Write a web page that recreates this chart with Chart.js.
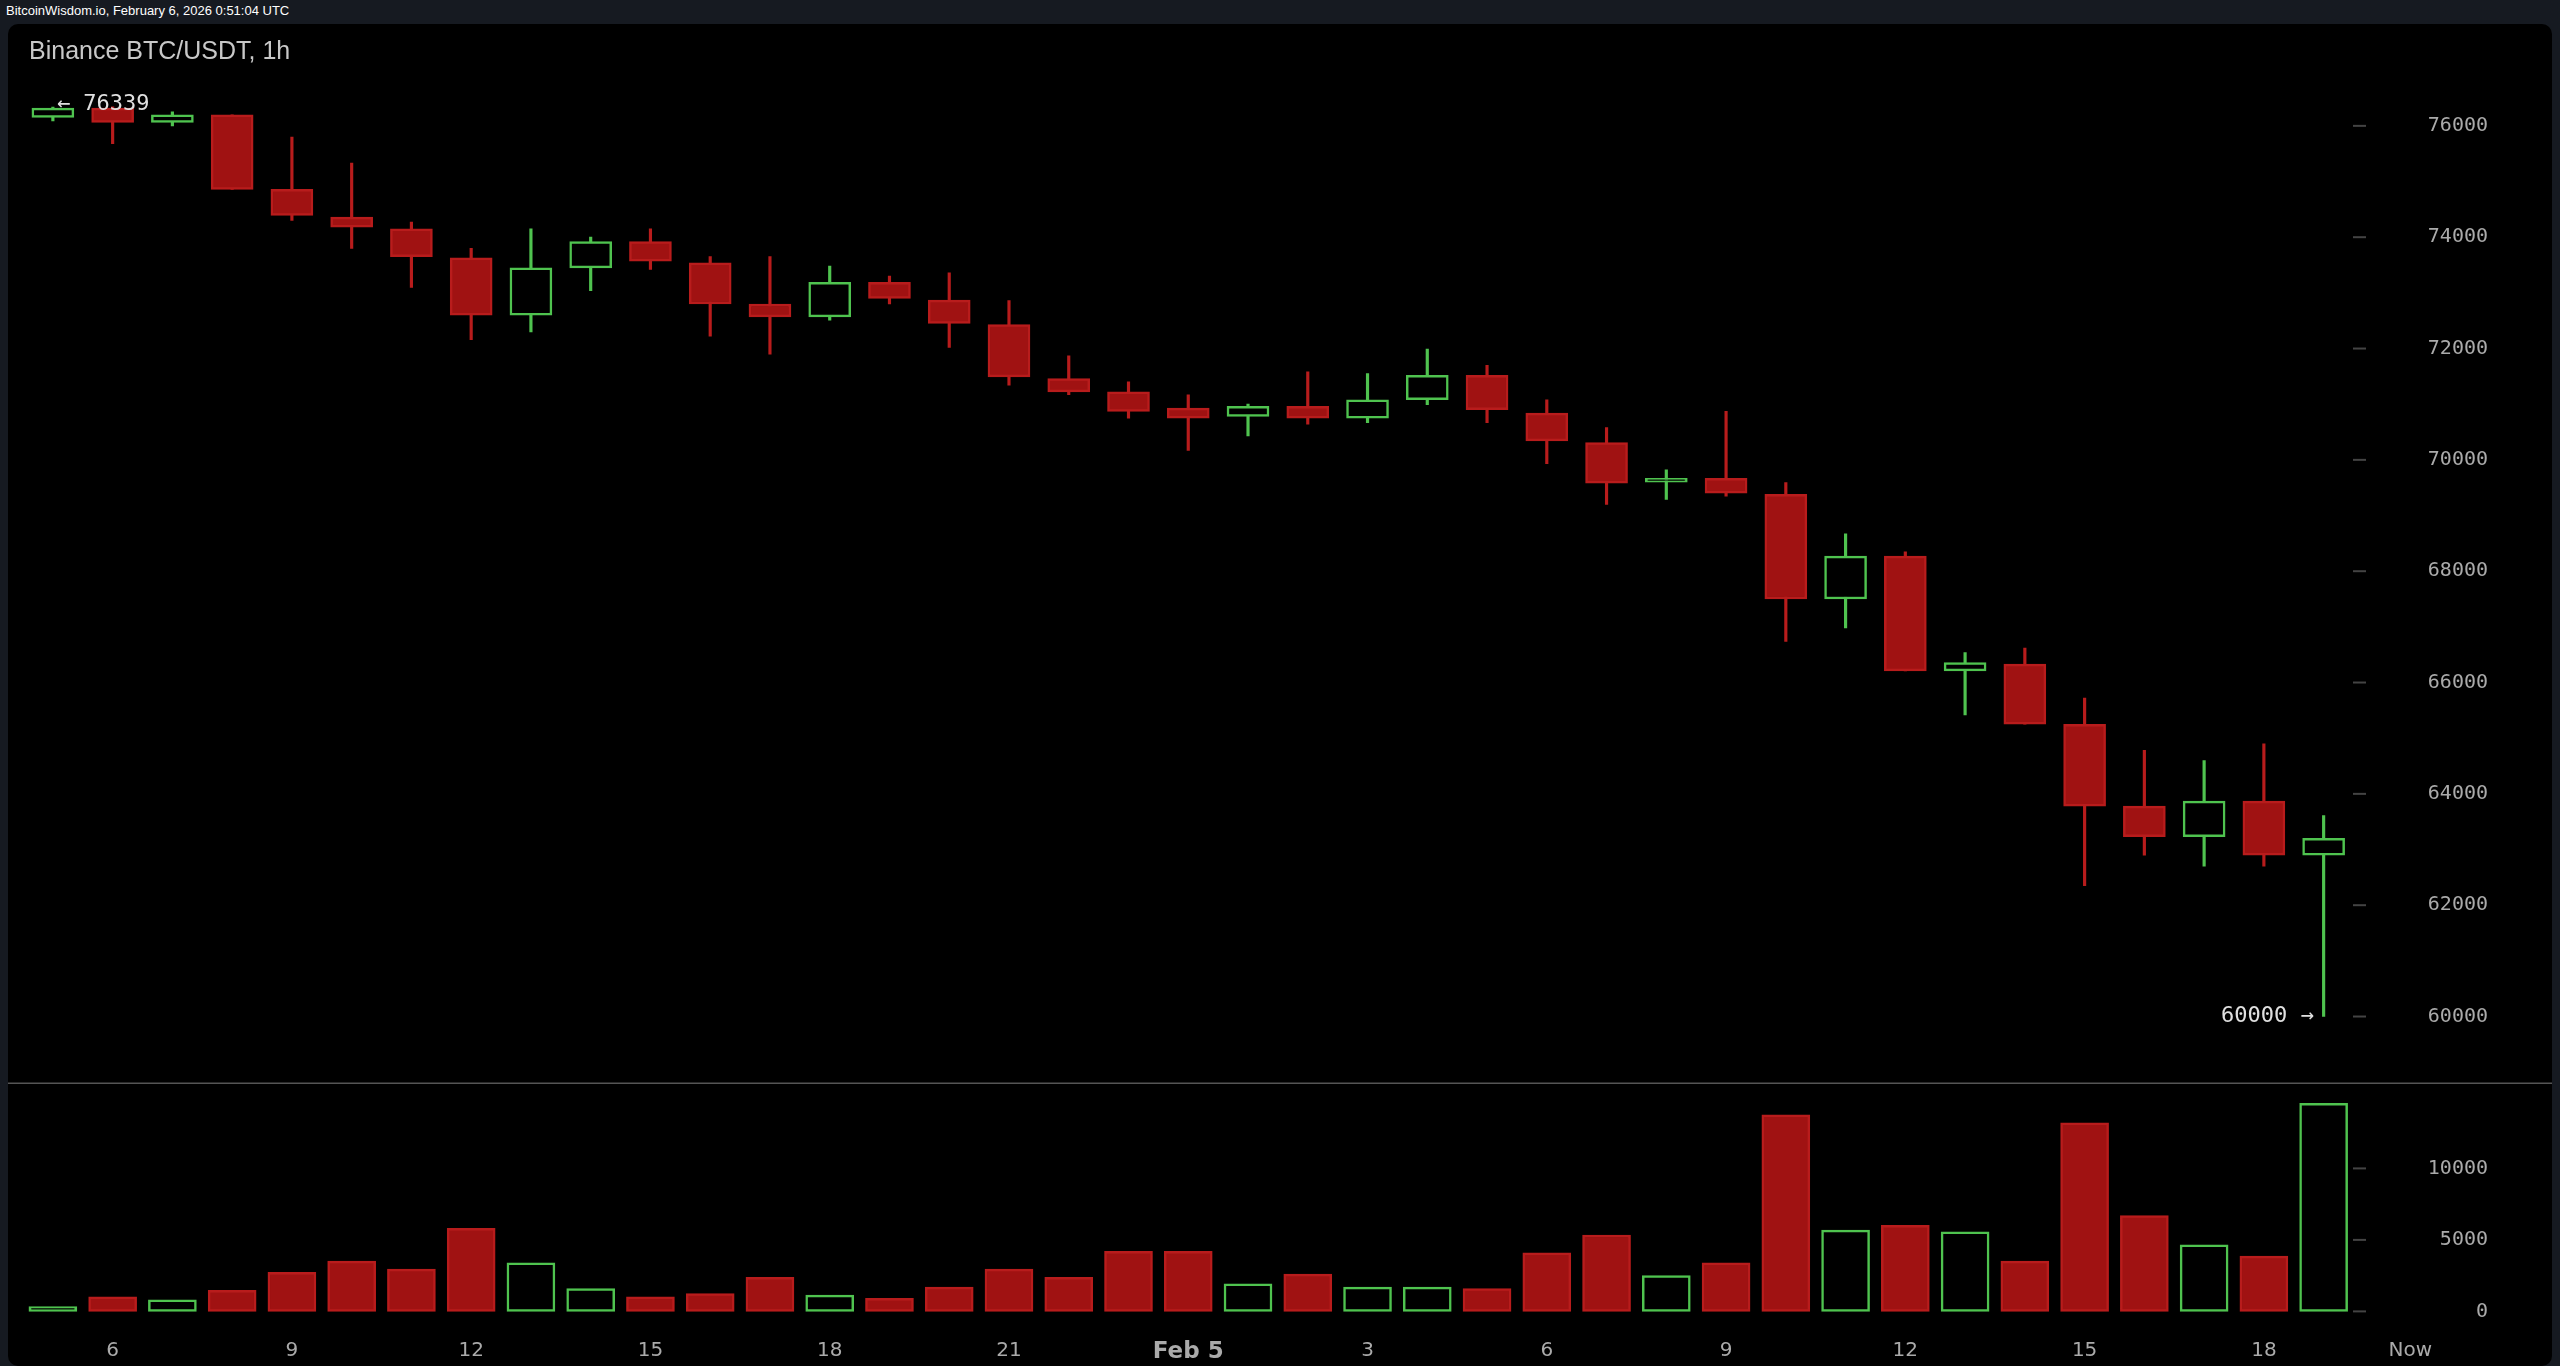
<!DOCTYPE html>
<html>
<head>
<meta charset="utf-8">
<script src="https://cdn.jsdelivr.net/npm/chart.js@4"></script>
<style>
body{margin:0;background:#161a21;width:2560px;height:1366px;overflow:hidden;font-family:"Liberation Sans",Arial,sans-serif}
#top{position:absolute;left:6px;top:3px;color:#fff;font-size:13px}
#panel{position:absolute;left:8px;top:24px;width:2544px;height:1342px;background:#000;border-radius:10px}
#title{position:absolute;left:29px;top:36px;color:#c8c8c8;font-size:25px}
canvas{position:absolute;left:0;top:0}
</style>
</head>
<body>
<div id="top">BitcoinWisdom.io, February 6, 2026 0:51:04 UTC</div>
<div id="panel"></div>
<canvas id="c" width="2560" height="1366"></canvas>
<div id="title">Binance BTC/USDT, 1h</div>
<script>
// hourly candles, Feb 4 05:00 -> Feb 5 19:00
const opens  = [76150,76320,76060,76200,74860,74360,74150,73630,72600,73450,73920,73540,72800,72570,73190,72870,72430,71460,71220,70930,70780,70960,70750,71080,71520,70840,70310,69600,69670,69380,67500,68270,66210,66330,65250,63780,63230,63870,62900];
const closes = [76320,76060,76200,74860,74390,74180,73650,72600,73450,73920,73570,72800,72570,73190,72900,72450,71490,71220,70870,70750,70960,70750,71080,71520,70900,70340,69580,69670,69400,67500,68270,66210,66360,65250,63780,63230,63870,62900,63200];
const highs  = [76339,76340,76250,76200,75800,75330,74270,73800,74150,74000,74150,73650,73650,73480,73300,73360,72860,71870,71400,71170,71000,71580,71550,71990,71700,71080,70580,69820,70870,69590,68670,68350,66540,66620,65720,64780,64600,64900,63610];
const lows   = [76090,75680,76000,74860,74300,73800,73100,72160,72300,73040,73420,72220,71900,72510,72800,72020,71340,71170,70750,70170,70430,70640,70670,70990,70670,69930,69200,69290,69350,66740,66980,66210,65420,65250,62350,62900,62700,62700,60000];
const volumes= [340,1020,800,1480,2730,3520,2950,5800,3400,1590,1020,1250,2390,1140,910,1700,2950,2390,4200,4200,1930,2610,1700,1700,1590,4090,5340,2500,3400,13750,5680,6020,5570,3520,13180,6700,4660,3860,14550];
const tickPos   = [1,4,7,10,13,16,19,22,25,28,31,34,37,39.45];
const tickLabels= ['6','9','12','15','18','21','Feb 5','3','6','9','12','15','18','Now'];
const priceTicks = [60000,62000,64000,66000,68000,70000,72000,74000,76000];
const volTicks = [0,5000,10000];

const GREEN='#4fc34f', RED='#a01212', REDB='#b81c1c';
const MONO='"DejaVu Sans Mono"';
const up = opens.map((o,i)=>closes[i]>=o);
const idx = opens.map((_,i)=>i);

const extras = {
  id:'extras',
  afterDraw(chart){
    const c=chart.ctx, y=chart.scales.y, yv=chart.scales.yv, x=chart.scales.x;
    c.save();
    c.strokeStyle='#555'; c.lineWidth=1.5;
    c.beginPath(); c.moveTo(8,yv.top); c.lineTo(2552,yv.top); c.stroke();
    c.strokeStyle='#444'; c.lineWidth=2;
    priceTicks.forEach(v=>{const p=y.getPixelForValue(v); c.beginPath(); c.moveTo(2353,p); c.lineTo(2366,p); c.stroke();});
    volTicks.forEach(v=>{const p=yv.getPixelForValue(v); c.beginPath(); c.moveTo(2353,p); c.lineTo(2366,p); c.stroke();});
    c.fillStyle='#e0e0e0'; c.font='22px '+MONO; c.textBaseline='middle';
    c.textAlign='left';
    c.fillText('← '+highs[0], x.getPixelForValue(0)+4, y.getPixelForValue(highs[0])-3);
    c.textAlign='right';
    const last=lows.length-1;
    c.fillText(lows[last]+' →', x.getPixelForValue(last)-10, y.getPixelForValue(lows[last]));
    c.restore();
  }
};

new Chart(document.getElementById('c'),{
  type:'bar',
  data:{datasets:[
    {label:'body',yAxisID:'y',data:idx.map(i=>({x:i,y:[opens[i],closes[i]]})),
     backgroundColor:up.map(u=>u?'#000':RED),borderColor:up.map(u=>u?GREEN:REDB),
     borderWidth:2.5,borderSkipped:false,barThickness:42,grouped:false},
    {label:'wick',yAxisID:'y',data:idx.map(i=>({x:i,y:[lows[i],highs[i]]})),
     backgroundColor:up.map(u=>u?GREEN:REDB),borderWidth:0,barThickness:2.5,grouped:false},
    {label:'volume',yAxisID:'yv',data:idx.map(i=>({x:i,y:volumes[i]})),
     backgroundColor:up.map(u=>u?'#000':RED),borderColor:up.map(u=>u?GREEN:REDB),
     borderWidth:2.5,borderSkipped:false,barThickness:48,grouped:false}
  ]},
  options:{
    responsive:false,animation:false,
    layout:{padding:{top:24,bottom:0,left:23,right:55}},
    plugins:{legend:{display:false},tooltip:{enabled:false}},
    scales:{
      x:{type:'linear',offset:false,min:-0.5,max:40.6,grid:{display:false},border:{display:false},
         afterBuildTicks:s=>{s.ticks=tickPos.map(v=>({value:v}));},
         ticks:{autoSkip:false,maxRotation:0,padding:0,color:'#aaa',
           callback:(v,i)=>tickLabels[i],
           font:ctx=>ctx.index===6?{size:23,weight:'bold',family:'DejaVu Sans'}:{size:20,family:'DejaVu Sans'}}},
      y:{position:'right',stack:'s',stackWeight:1059,min:58800,max:77830,
         grid:{display:false},border:{display:false},
         afterBuildTicks:s=>{s.ticks=priceTicks.map(v=>({value:v}));},
         ticks:{mirror:true,padding:9,color:'#aaa',callback:v=>String(v),font:{size:20,family:'DejaVu Sans Mono'}}},
      yv:{position:'right',stack:'s',stackWeight:247,min:-1330,max:15950,offset:false,
         grid:{display:false},border:{display:false},
         afterBuildTicks:s=>{s.ticks=volTicks.map(v=>({value:v}));},
         ticks:{mirror:true,padding:9,color:'#aaa',callback:v=>String(v),font:{size:20,family:'DejaVu Sans Mono'}}}
    }
  },
  plugins:[extras]
});
</script>
</body>
</html>
